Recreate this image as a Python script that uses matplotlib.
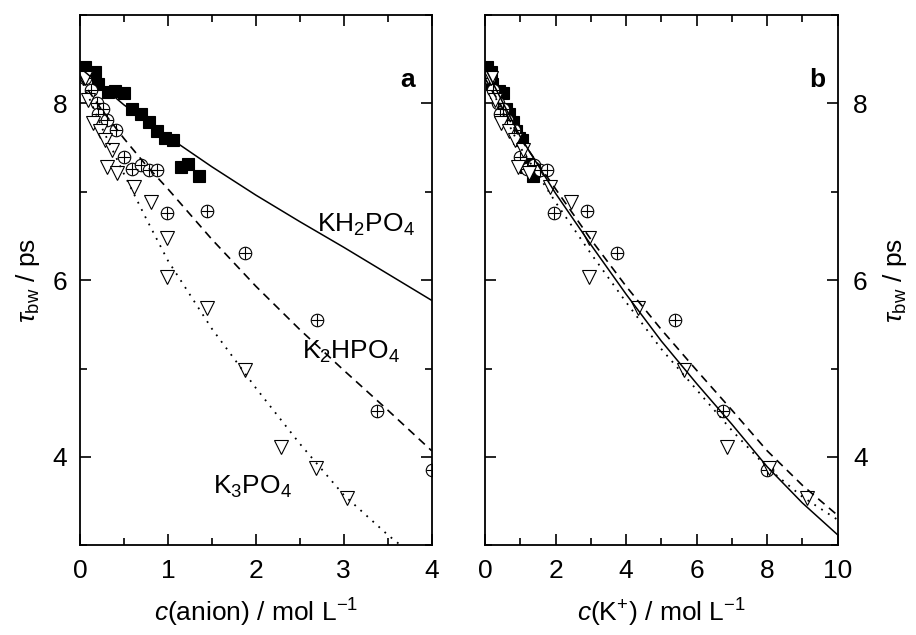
import numpy as np
import matplotlib
matplotlib.use("Agg")
import matplotlib.pyplot as plt
from matplotlib.ticker import MultipleLocator

face = "Liberation Sans"
plt.rcParams["font.family"] = [face, "DejaVu Sans"]
plt.rcParams["mathtext.fontset"] = "custom"
plt.rcParams["mathtext.rm"] = face
plt.rcParams["mathtext.it"] = face + ":italic"
plt.rcParams["mathtext.bf"] = face + ":bold"

# measured points, tau_bw / ps vs c(anion) / mol L-1
anion_kh2 = [0.06, 0.17, 0.21, 0.32, 0.40, 0.50, 0.59, 0.69, 0.78, 0.88, 0.97, 1.06, 1.15, 1.23, 1.35]
tau_kh2 = [8.41, 8.35, 8.22, 8.12, 8.14, 8.11, 7.93, 7.88, 7.79, 7.68, 7.60, 7.58, 7.28, 7.31, 7.18]

anion_k2h = [0.06, 0.12, 0.19, 0.26, 0.21, 0.31, 0.41, 0.50, 0.59, 0.69, 0.78, 0.88,
             0.985, 1.44, 1.875, 2.69, 3.38, 4.00]
tau_k2h = [8.28, 8.15, 8.00, 7.93, 7.88, 7.81, 7.70, 7.39, 7.26, 7.30, 7.24, 7.24,
           6.76, 6.78, 6.31, 5.55, 4.52, 3.85]

anion_k3 = [0.06, 0.09, 0.15, 0.23, 0.28, 0.36, 0.31, 0.42, 0.61, 0.81,
            0.985, 0.985, 1.45, 1.88, 2.29, 2.68, 3.04]
tau_k3 = [8.28, 8.03, 7.78, 7.69, 7.58, 7.47, 7.28, 7.21, 7.05, 6.88,
          6.47, 6.03, 5.68, 4.98, 4.11, 3.87, 3.54]

# potassium ions per anion: c(K+) = n * c(anion)
n_kh2, n_k2h, n_k3 = 1, 2, 3

# fitted curves
fit_x_kh2 = [0, 0.5, 1, 1.5, 2, 2.5, 3, 3.5, 4]
fit_y_kh2 = [8.40, 7.98, 7.62, 7.28, 6.96, 6.66, 6.37, 6.07, 5.77]
fit_x_k2h = [0, 0.25, 0.5, 0.75, 1, 1.5, 2, 2.5, 3, 3.5, 4]
fit_y_k2h = [8.28, 7.92, 7.60, 7.30, 7.03, 6.46, 5.93, 5.44, 4.98, 4.53, 4.07]
fit_x_k3 = [0, 0.25, 0.5, 0.75, 1, 1.5, 2, 2.5, 3, 3.5, 3.7]
fit_y_k3 = [8.30, 7.72, 7.20, 6.70, 6.22, 5.45, 4.78, 4.15, 3.57, 3.12, 2.96]

# fitted curves, vs c(K+)
fit_xb = [0, 1, 2, 3, 4, 5, 6, 7, 8, 9, 10]
fit_yb_kh2 = [8.40, 7.62, 6.98, 6.40, 5.84, 5.31, 4.83, 4.37, 3.89, 3.48, 3.12]
fit_yb_k2h = [8.28, 7.60, 7.03, 6.46, 5.93, 5.44, 4.98, 4.53, 4.07, 3.68, 3.34]
fit_yb_k3 = [8.30, 7.50, 6.88, 6.30, 5.75, 5.22, 4.76, 4.30, 3.88, 3.55, 3.29]

fig = plt.figure(figsize=(9.16, 6.35), dpi=100)
ax_a = fig.add_axes([0.0873, 0.141, 0.384, 0.836])
ax_b = fig.add_axes([0.5295, 0.141, 0.385, 0.836])

FS = 19
mk = dict(linestyle="none", markeredgecolor="k", markeredgewidth=0.8, zorder=2)


def draw_points(ax, n1, n2, n3):
    x1 = np.array(anion_kh2) * n1
    x2 = np.array(anion_k2h) * n2
    x3 = np.array(anion_k3) * n3
    ax.plot(x1, tau_kh2, marker="s", ms=9, markerfacecolor="k", **mk)
    ax.plot(x2, tau_k2h, marker="o", ms=9, markerfacecolor="white", **mk)
    ax.plot(x2, tau_k2h, marker="+", ms=9, color="k", **mk)
    ax.plot(x3, tau_k3, marker="v", ms=10.5, markerfacecolor="white", **mk)


draw_points(ax_a, 1, 1, 1)
ax_a.plot(fit_x_kh2, fit_y_kh2, "k-", lw=1.1, zorder=3)
ax_a.plot(fit_x_k2h, fit_y_k2h, color="k", lw=1.2, ls=(0, (5, 3.5)), zorder=3)
ax_a.plot(fit_x_k3, fit_y_k3, color="k", lw=1.3, ls=(0, (1, 3.5)), zorder=3)

draw_points(ax_b, n_kh2, n_k2h, n_k3)
ax_b.plot(fit_xb, fit_yb_kh2, "k-", lw=1.1, zorder=3)
ax_b.plot(fit_xb, fit_yb_k2h, color="k", lw=1.2, ls=(0, (5, 3.5)), zorder=3)
ax_b.plot(fit_xb, fit_yb_k3, color="k", lw=1.3, ls=(0, (1, 3.5)), zorder=3)

ax_a.text(2.69, 6.62, "KH$_2$PO$_4$", fontsize=FS, ha="left", va="center")
ax_a.text(2.52, 5.19, "K$_2$HPO$_4$", fontsize=FS, ha="left", va="center")
ax_a.text(1.51, 3.66, "K$_3$PO$_4$", fontsize=FS, ha="left", va="center")

ax_a.text(0.93, 0.877, "a", transform=ax_a.transAxes, fontsize=FS, fontweight="bold",
          ha="center", va="center")
ax_b.text(0.943, 0.877, "b", transform=ax_b.transAxes, fontsize=FS, fontweight="bold",
          ha="center", va="center")

ax_a.set_xlim(0, 4)
ax_b.set_xlim(0, 10)
ax_a.xaxis.set_major_locator(MultipleLocator(1))
ax_a.xaxis.set_minor_locator(MultipleLocator(0.5))
ax_b.xaxis.set_major_locator(MultipleLocator(2))
ax_b.xaxis.set_minor_locator(MultipleLocator(1))

for ax in (ax_a, ax_b):
    ax.set_ylim(3, 9)
    ax.yaxis.set_major_locator(MultipleLocator(2))
    ax.yaxis.set_minor_locator(MultipleLocator(1))
    ax.tick_params(which="both", direction="in", top=True, right=True,
                   labelsize=FS, width=1.2)
    ax.tick_params(which="major", length=8, pad=10)
    ax.tick_params(which="minor", length=5)
    for s in ax.spines.values():
        s.set_linewidth(1.3)

ax_b.tick_params(labelleft=False, labelright=True)
ax_a.tick_params(axis="y", pad=9)
ax_b.tick_params(axis="y", pad=11)
ax_b.yaxis.set_label_position("right")

ax_a.set_xlabel("$c$(anion) / mol L$^{-1}$", fontsize=FS, labelpad=10)
ax_b.set_xlabel("$c$(K$^{+}$) / mol L$^{-1}$", fontsize=FS, labelpad=10)
ax_a.set_ylabel(r"$\tau_{\rm bw}$ / ps", fontsize=FS, labelpad=8)
ax_b.set_ylabel(r"$\tau_{\rm bw}$ / ps", fontsize=FS, labelpad=10)

fig.savefig("out.png", dpi=100)
